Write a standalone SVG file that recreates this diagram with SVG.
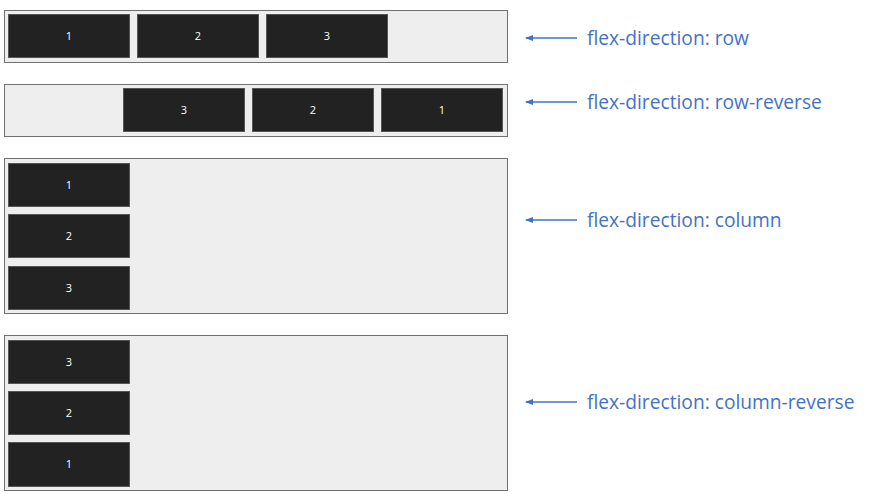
<svg xmlns="http://www.w3.org/2000/svg" width="874" height="494" viewBox="0 0 874 494">
<defs>
<style>
.container{fill:#eeeeee;stroke:#707070;stroke-width:1}
.item{fill:#222222;stroke:#555555;stroke-width:1}
.num{fill:#ffffff;font-family:"Open Sans","Noto Sans",sans-serif;font-size:11px;text-anchor:middle}
.label{fill:#4472c4;font-family:"Open Sans","Noto Sans",sans-serif;font-size:19.2px}
.arrow{stroke:#4472c4;stroke-width:1.5;fill:none;marker-end:url(#ah)}
</style>
<marker id="ah" markerWidth="8" markerHeight="6" refX="7" refY="3" orient="auto" markerUnits="userSpaceOnUse">
<path d="M0,0 L8,3 L0,6 Z" fill="#4472c4"/>
</marker>
</defs>
<rect width="874" height="494" fill="#ffffff"/>

<g id="row">
<rect class="container" x="4.5" y="10.5" width="503" height="52"/>
<g id="row-1"><rect class="item" x="8.5" y="14.5" width="121" height="43"/><text class="num" x="69" y="40">1</text></g>
<g id="row-2"><rect class="item" x="137.5" y="14.5" width="121" height="43"/><text class="num" x="198" y="40">2</text></g>
<g id="row-3"><rect class="item" x="266.5" y="14.5" width="121" height="43"/><text class="num" x="327" y="40">3</text></g>
</g>

<g id="row-reverse">
<rect class="container" x="4.5" y="84.5" width="503" height="52"/>
<g id="rr-3"><rect class="item" x="123.5" y="88.5" width="121" height="43"/><text class="num" x="184" y="114">3</text></g>
<g id="rr-2"><rect class="item" x="252.5" y="88.5" width="121" height="43"/><text class="num" x="313" y="114">2</text></g>
<g id="rr-1"><rect class="item" x="381.5" y="88.5" width="121" height="43"/><text class="num" x="442" y="114">1</text></g>
</g>

<g id="column">
<rect class="container" x="4.5" y="158.5" width="503" height="155"/>
<g id="col-1"><rect class="item" x="8.5" y="163.5" width="121" height="43"/><text class="num" x="69" y="189">1</text></g>
<g id="col-2"><rect class="item" x="8.5" y="214.5" width="121" height="43"/><text class="num" x="69" y="240">2</text></g>
<g id="col-3"><rect class="item" x="8.5" y="266.5" width="121" height="43"/><text class="num" x="69" y="292">3</text></g>
</g>

<g id="column-reverse">
<rect class="container" x="4.5" y="335.5" width="503" height="155"/>
<g id="cr-3"><rect class="item" x="8.5" y="340.5" width="121" height="43"/><text class="num" x="69" y="366">3</text></g>
<g id="cr-2"><rect class="item" x="8.5" y="391.5" width="121" height="43"/><text class="num" x="69" y="417">2</text></g>
<g id="cr-1"><rect class="item" x="8.5" y="442.5" width="121" height="44"/><text class="num" x="69" y="468">1</text></g>
</g>

<g id="connectors">
<line class="arrow" x1="577" y1="38" x2="526" y2="38"/>
<line class="arrow" x1="577" y1="102" x2="526" y2="102"/>
<line class="arrow" x1="577" y1="220" x2="526" y2="220"/>
<line class="arrow" x1="577" y1="402" x2="526" y2="402"/>
</g>

<g id="labels">
<text class="label" x="587" y="45">flex-direction: row</text>
<text class="label" x="587" y="109">flex-direction: row-reverse</text>
<text class="label" x="587" y="227">flex-direction: column</text>
<text class="label" x="587" y="409">flex-direction: column-reverse</text>
</g>
</svg>
